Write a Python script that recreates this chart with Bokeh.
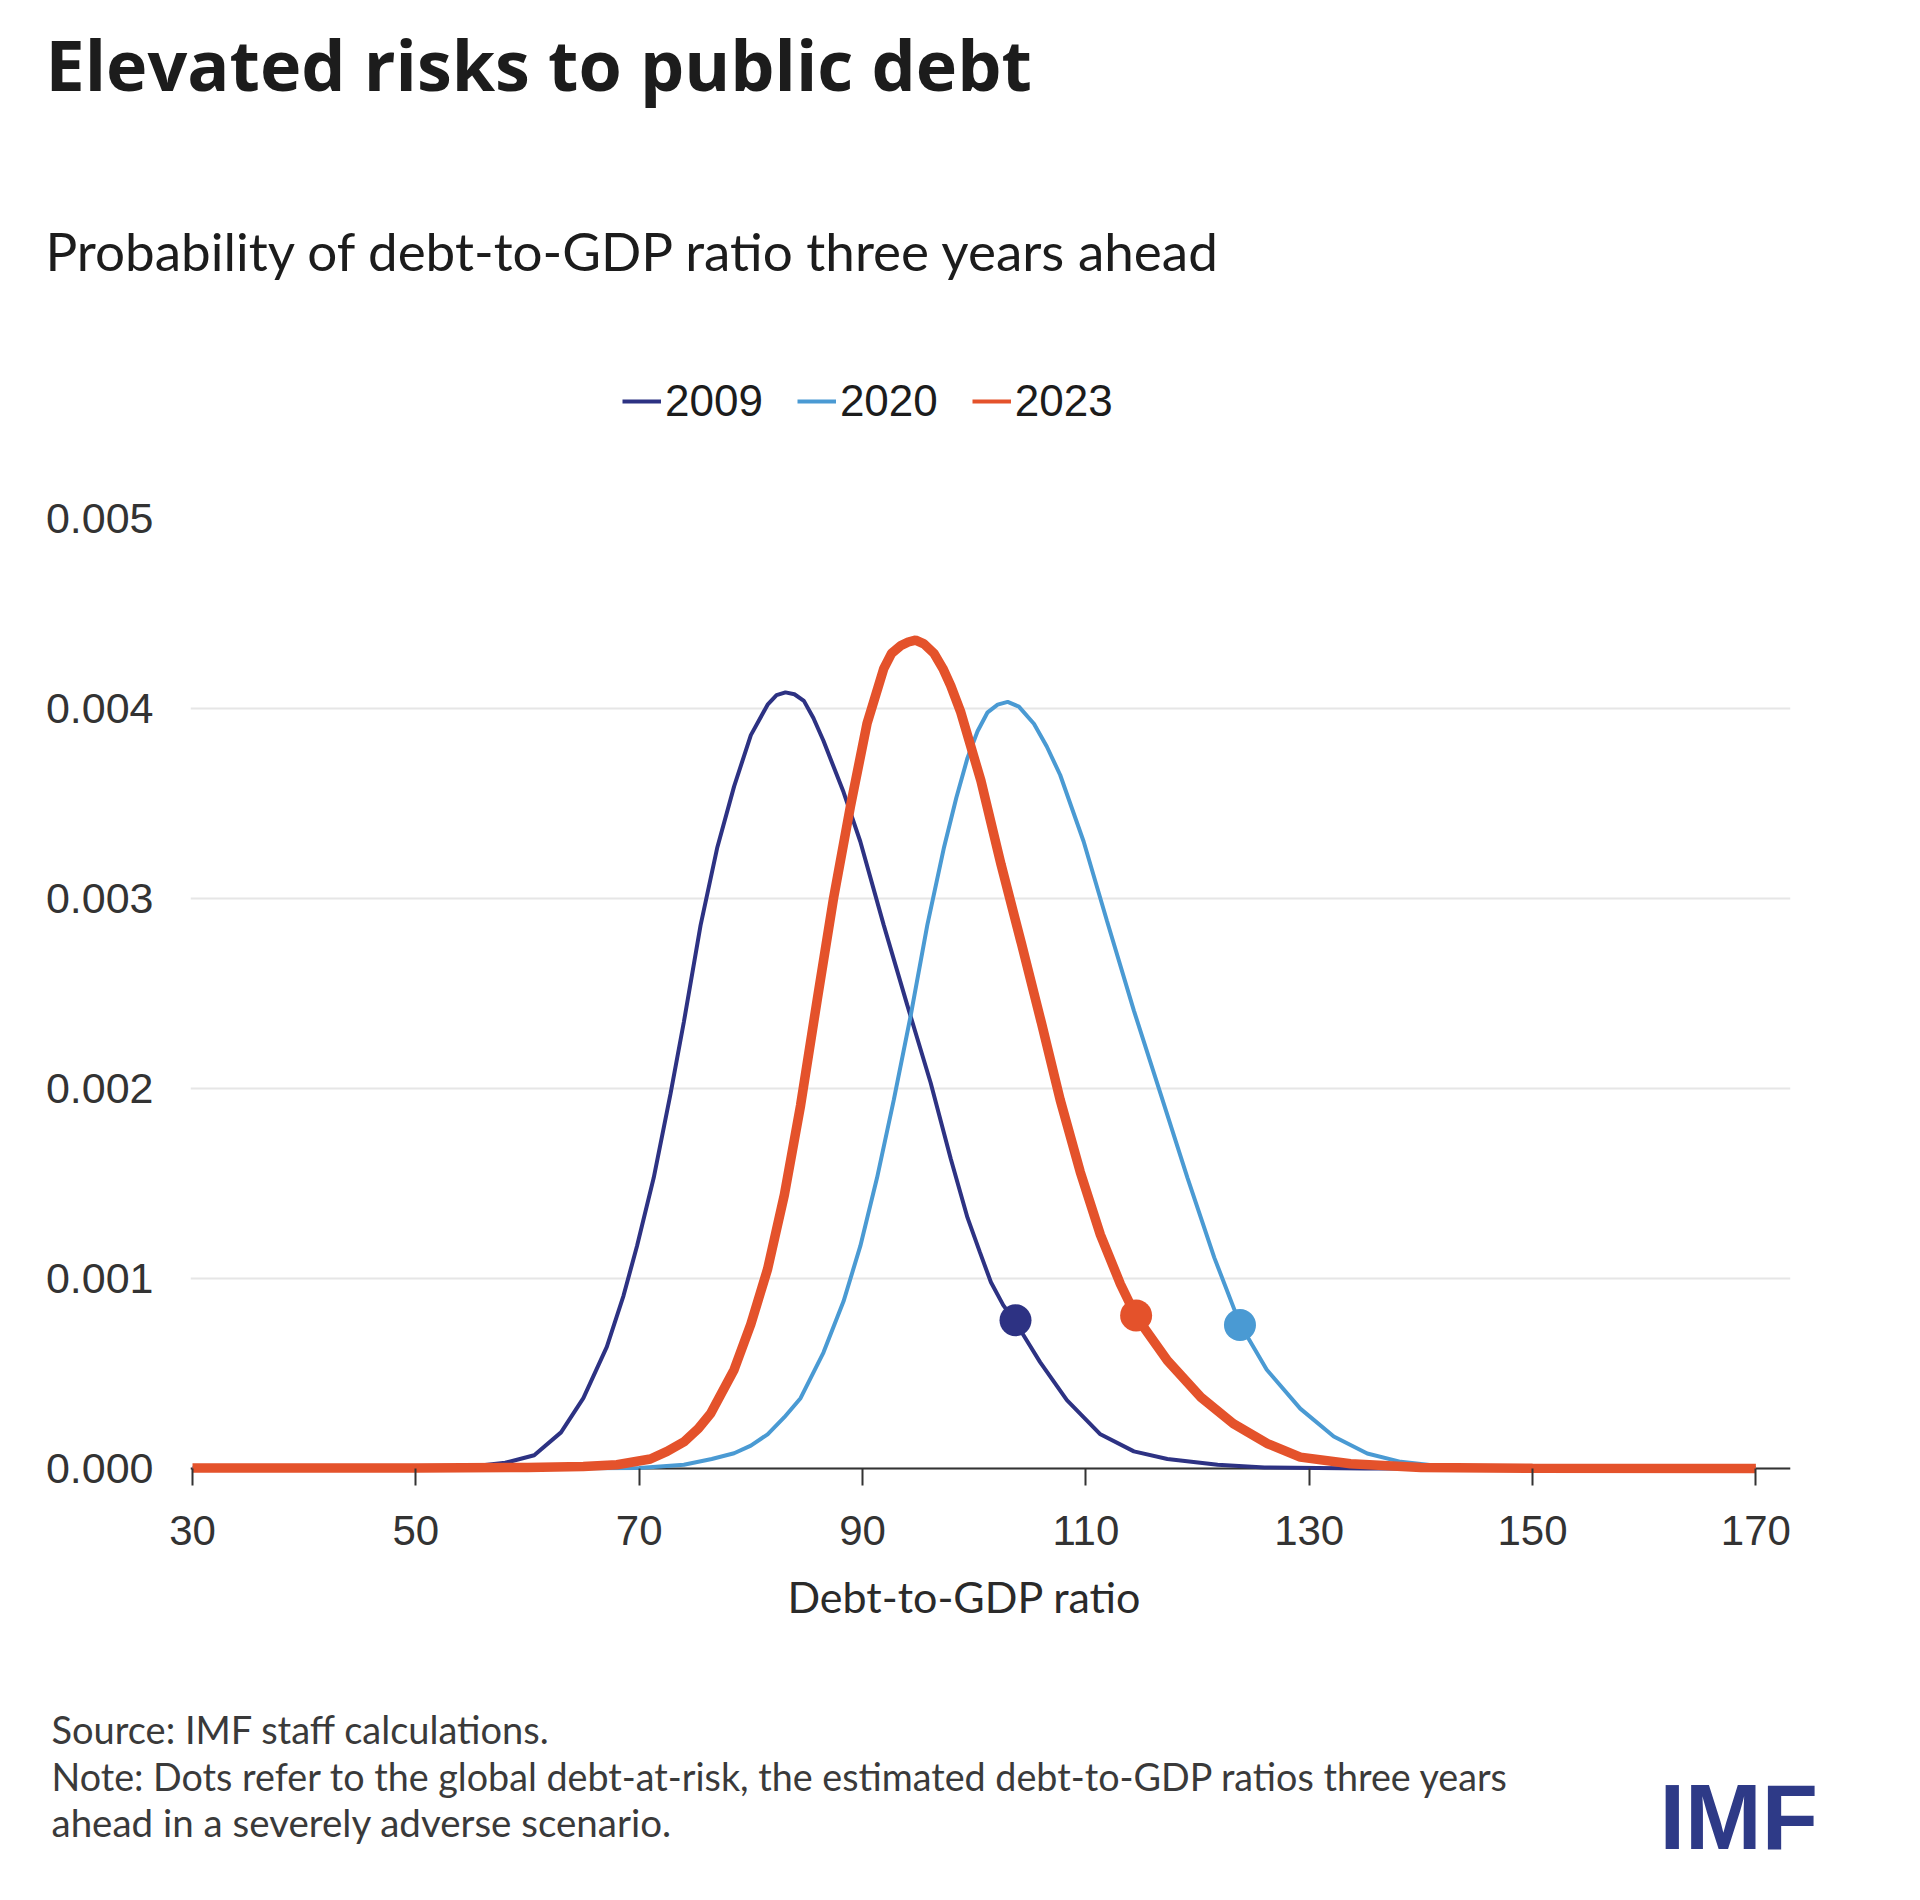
from bokeh.plotting import figure
from bokeh.layouts import column
from bokeh.models import (Label, Legend, LegendItem, Range1d, FixedTicker, Span,
                          NumeralTickFormatter)
from bokeh.embed import file_html
from bokeh.resources import INLINE

# ---------------- data ----------------
x_2009 = [30, 45, 52, 55, 58, 60.6, 63.0, 65.0, 67.1, 68.6, 69.8, 71.3, 72.8, 74.0, 75.5,
          77.0, 78.5, 80.0, 81.5, 82.3, 83.1, 83.9, 84.75, 85.6, 86.5, 88.3, 89.8, 91.9,
          94.0, 96.1, 97.9, 99.4, 100.5, 101.5, 102.6, 103.7, 105.9, 108.3, 111.3, 114.3,
          117.3, 121.8, 126, 135, 170]
y_2009 = [0, 0, 0.000002, 0.00001, 0.00003, 0.00007, 0.00019, 0.00037, 0.00064, 0.00091,
          0.00117, 0.00153, 0.00197, 0.00235, 0.00286, 0.00327, 0.00359, 0.00386, 0.00402,
          0.00407, 0.004085, 0.004075, 0.00404, 0.00395, 0.00383, 0.00356, 0.00330,
          0.00286, 0.00244, 0.00203, 0.00163, 0.00132, 0.00114, 0.00098, 0.00086, 0.00077,
          0.00056, 0.00036, 0.00018, 0.00009, 0.00005, 0.00002, 0.000005, 0, 0]

x_2020 = [30, 60, 70, 74.0, 76.5, 78.5, 80.0, 81.5, 83.0, 84.45, 86.5, 88.3, 89.8, 91.3,
          92.8, 94.3, 95.8, 97.3, 98.4, 99.4, 100.3, 101.2, 102.1, 103.0, 104.0, 105.35,
          106.5, 107.7, 109.8, 111.9, 114.3, 116.7, 119.1, 121.5, 123.8, 126.2, 129.2,
          132.2, 135.2, 138.2, 142, 146, 170]
y_2020 = [0, 0, 0.000002, 0.00002, 0.00005, 0.00008, 0.00012, 0.00018, 0.00027, 0.00037,
          0.00061, 0.00088, 0.00117, 0.00153, 0.00194, 0.00238, 0.00286, 0.00327, 0.00353,
          0.00374, 0.00388, 0.00398, 0.00402, 0.004035, 0.00401, 0.00392, 0.0038, 0.00365,
          0.00330, 0.00288, 0.00241, 0.00197, 0.00153, 0.00111, 0.00076, 0.00052,
          0.000315, 0.000168, 0.000079, 0.000035, 0.00001, 0.000002, 0]

x_2023 = [30, 50, 60, 65, 68, 71, 72.5, 74, 75.3, 76.4, 78.5, 80.0, 81.5, 83.0, 84.45,
          85.95, 87.4, 88.9, 90.4, 91.9, 92.6, 93.4, 94.1, 94.75, 95.5, 96.4, 97.2, 97.9,
          98.8, 100.6, 102.4, 104.2, 106.0, 107.7, 109.5, 111.3, 113.1, 114.5, 117.3, 120.3,
          123.2, 126.3, 129.2, 133.7, 140, 150, 170]
y_2023 = [0.000002, 0.000003, 0.000005, 0.00001, 0.00002, 0.00005, 0.00009, 0.00014,
          0.00021, 0.00029, 0.00052, 0.00076, 0.00105, 0.00144, 0.00191, 0.00247, 0.00300,
          0.00348, 0.00392, 0.00421, 0.00429, 0.00433, 0.00435, 0.00436, 0.00434, 0.00429,
          0.00421, 0.00412, 0.00398, 0.00362, 0.00318, 0.00277, 0.00235, 0.00194, 0.00156,
          0.00123, 0.00097, 0.00080, 0.000568, 0.000375, 0.000236, 0.00013, 0.00006,
          0.000025, 0.000005, 0.000001, 0]

# debt-at-risk dots
dot_x = [103.7, 123.8, 114.5]
dot_y = [0.00078, 0.000755, 0.000805]

series_names = ["2009", "2020", "2023"]
x_ticks = [30, 50, 70, 90, 110, 130, 150, 170]
y_ticks = [0.0, 0.001, 0.002, 0.003, 0.004, 0.005]

# ---------------- styling ----------------
NAVY = "#2d3283"
BLUE = "#4a9ad3"
ORANGE = "#e4522b"
GRID = "#e6e6e6"
AXIS = "#333333"
TEXT = "#1c1c1c"
NOTE = "#3a3a3a"

W = 1904
H_HEAD, H_MAIN, H_FOOT = 450, 1110, 324
FRAME_LEFT, FRAME_RIGHT = 190, 1790


def blank(height):
    f = figure(width=W, height=height, output_backend="svg", toolbar_location=None,
               x_range=Range1d(0, 1), y_range=Range1d(0, 1),
               x_axis_type=None, y_axis_type=None, min_border=0)
    f.frame_align = False
    f.outline_line_color = None
    f.xgrid.visible = False
    f.ygrid.visible = False
    return f


def lab(fig, fig_top, fig_h, text, X, Y, size, font="Lato", style="normal", color=TEXT,
        align="left"):
    # X, Y: page position of the baseline; the helper frames cover their whole canvas
    fig.add_layout(Label(x=X, y=fig_top + fig_h - Y + 0.38 * size,
                         x_units="screen", y_units="screen", text=text,
                         text_font=font, text_font_size=f"{size}px", text_font_style=style,
                         text_color=color, text_align=align, text_baseline="alphabetic"))


# ---------------- header ----------------
head = blank(H_HEAD)
lab(head, 0, H_HEAD, "Elevated risks to public debt", 45, 90, 70, font="Open Sans",
    style="bold")
lab(head, 0, H_HEAD, "Probability of debt-to-GDP ratio three years ahead", 45, 270, 53)

l09 = head.line(x_2009, y_2009, line_color=NAVY, line_width=4, visible=False)
l20 = head.line(x_2020, y_2020, line_color=BLUE, line_width=4, visible=False)
l23 = head.line(x_2023, y_2023, line_color=ORANGE, line_width=4, visible=False)
legend = Legend(items=[LegendItem(label=series_names[0], renderers=[l09]),
                       LegendItem(label=series_names[1], renderers=[l20]),
                       LegendItem(label=series_names[2], renderers=[l23])],
                orientation="horizontal", location=(622, H_HEAD - 426),
                glyph_width=39, glyph_height=30, label_standoff=4, spacing=34,
                padding=0, margin=0, border_line_color=None,
                background_fill_alpha=0, inactive_fill_alpha=0,
                label_text_font="Liberation Sans", label_text_font_size="44px",
                label_text_color=TEXT)
head.add_layout(legend, "center")

# ---------------- main chart ----------------
p = figure(width=W, height=H_MAIN, output_backend="svg", toolbar_location=None,
           x_range=Range1d(29.82, 173.1), y_range=Range1d(-0.0000316, 0.005),
           min_border_left=FRAME_LEFT, min_border_right=W - FRAME_RIGHT,
           min_border_top=518 - H_HEAD, min_border_bottom=H_HEAD + H_MAIN - 1474)
p.frame_align = False
p.outline_line_color = None
p.background_fill_color = "white"
p.border_fill_color = "white"

p.xgrid.visible = False
p.ygrid.ticker = FixedTicker(ticks=y_ticks)
p.ygrid.grid_line_color = GRID
p.ygrid.grid_line_width = 2

p.yaxis.ticker = FixedTicker(ticks=y_ticks)
p.yaxis.formatter = NumeralTickFormatter(format="0.000")
p.yaxis.axis_line_color = None
p.yaxis.major_tick_line_color = None
p.yaxis.minor_tick_line_color = None
p.yaxis.major_tick_out = 0
p.yaxis.major_tick_in = 0
p.yaxis.major_label_standoff = 37
p.yaxis.major_label_text_font = "Liberation Sans"
p.yaxis.major_label_text_font_size = "43px"
p.yaxis.major_label_text_color = AXIS

p.xaxis.ticker = FixedTicker(ticks=x_ticks)
p.xaxis.axis_line_color = None
p.xaxis.major_tick_line_color = AXIS
p.xaxis.major_tick_line_width = 2
p.xaxis.major_tick_in = 6
p.xaxis.major_tick_out = 11
p.xaxis.minor_tick_line_color = None
p.xaxis.major_label_standoff = 30
p.xaxis.major_label_text_font = "Liberation Sans"
p.xaxis.major_label_text_font_size = "42px"
p.xaxis.major_label_text_color = AXIS

p.add_layout(Span(location=0, dimension="width", line_color=AXIS, line_width=2,
                  level="underlay"))

p.line(x_2009, y_2009, line_color=NAVY, line_width=4)
p.line(x_2020, y_2020, line_color=BLUE, line_width=4)
p.line(x_2023, y_2023, line_color=ORANGE, line_width=9.5)
p.scatter(dot_x, dot_y, size=32, color=[NAVY, BLUE, ORANGE], line_color=None)

# ---------------- footer ----------------
foot = blank(H_FOOT)
FT = H_HEAD + H_MAIN
lab(foot, FT, H_FOOT, "Debt-to-GDP ratio", 964, 1612, 43, color="#2a2a2a", align="center")
lab(foot, FT, H_FOOT, "Source: IMF staff calculations.", 51, 1743, 38, color=NOTE)
lab(foot, FT, H_FOOT,
    "Note: Dots refer to the global debt-at-risk, the estimated debt-to-GDP ratios three years",
    51, 1790, 37.7, color=NOTE)
lab(foot, FT, H_FOOT, "ahead in a severely adverse scenario.", 51, 1836, 38.5, color=NOTE)
lab(foot, FT, H_FOOT, "IMF", 1659, 1851, 92, font="Liberation Sans", style="bold",
    color="#2e3a87")

layout = column(head, p, foot, spacing=0)
open("out.html", "w").write(file_html(layout, INLINE))
